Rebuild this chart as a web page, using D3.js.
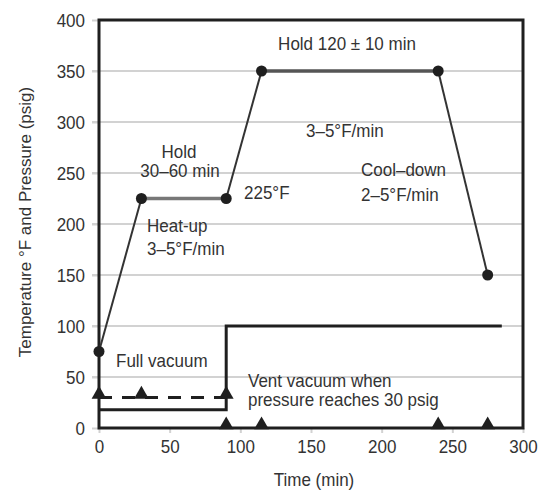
<!DOCTYPE html>
<html>
<head>
<meta charset="utf-8">
<script src="https://cdn.jsdelivr.net/npm/d3@7"></script>
<style>
  html, body { margin: 0; padding: 0; background: #fff; }
  svg { display: block; }
  text { font-family: "Liberation Sans", Arial, Helvetica, sans-serif; fill: #333; }
</style>
</head>
<body>
<svg id="chart" width="539" height="490"></svg>
<script>
// Cure cycle: temperature profile and autoclave pressure vs. time
const timeTicks = [0, 50, 100, 150, 200, 250, 300];
const valueTicks = [0, 50, 100, 150, 200, 250, 300, 350, 400];

// Temperature profile (°F)
const profileTime = [0, 30, 90, 115, 240, 275];
const profileTemp = [75, 225, 225, 350, 350, 150];

// Pressure (psig): vacuum bag then autoclave pressure
const pressureTime = [0, 90, 90, 285];
const pressureValue = [18, 18, 100, 100];

// Vent-vacuum line
const ventTime = [0, 30, 90];
const ventValue = [30, 30, 30];

// Event markers along the time axis
const eventTime = [90, 115, 240, 275];

const svg = d3.select("#chart");
const x = d3.scaleLinear().domain([0, 300]).range([99, 523]);
const y = d3.scaleLinear().domain([0, 400]).range([428, 20]);
const SY = 1.1;

// Gridlines (with short outer ticks)
svg.append("g").selectAll("line")
  .data(valueTicks.filter(v => v > 0 && v < 400))
  .join("line")
  .attr("x1", 92).attr("x2", x(300))
  .attr("y1", d => y(d)).attr("y2", d => y(d))
  .attr("stroke", "#d2d2d2").attr("stroke-width", 2);

// Axes via d3.axis, restyled
const yAxis = svg.append("g").attr("transform", `translate(${x(0)},0)`)
  .call(d3.axisLeft(y).tickValues(valueTicks).tickSize(7).tickPadding(7).tickFormat(d3.format("d")));
const xAxis = svg.append("g").attr("transform", `translate(0,${y(0)})`)
  .call(d3.axisBottom(x).tickValues(timeTicks).tickSize(5).tickPadding(12).tickFormat(d3.format("d")));
[yAxis, xAxis].forEach(g => {
  g.select(".domain").remove();
  g.selectAll(".tick line").attr("stroke", "#d2d2d2").attr("stroke-width", 2);
  g.selectAll(".tick text").attr("font-size", null).attr("fill", "#333")
    .style("font-size", "17px");
});
yAxis.selectAll(".tick text").each(function () {
  d3.select(this).attr("transform", `scale(1,${SY})`).attr("y", 0).attr("dy", "0.36em");
});
xAxis.selectAll(".tick text").attr("dy", "0.71em").each(function () {
  d3.select(this).attr("transform", `scale(1,${SY})`).attr("y", 12 / SY);
});

// Frame
svg.append("rect")
  .attr("x", x(0)).attr("y", y(400))
  .attr("width", x(300) - x(0)).attr("height", y(0) - y(400))
  .attr("fill", "none").attr("stroke", "#1f1f1f").attr("stroke-width", 3);

// Pressure line
const pressurePts = pressureTime.map((t, i) => [x(t), y(pressureValue[i])]);
svg.append("path")
  .attr("d", d3.line()(pressurePts))
  .attr("fill", "none").attr("stroke", "#1f1f1f").attr("stroke-width", 3);

// Vent vacuum dashed line
const ventPts = ventTime.map((t, i) => [x(t), y(ventValue[i])]);
svg.append("path")
  .attr("d", d3.line()(ventPts))
  .attr("fill", "none").attr("stroke", "#1f1f1f").attr("stroke-width", 3)
  .attr("stroke-dasharray", "13,10");

// Temperature profile segments (hold segments drawn heavier)
const profile = profileTime.map((t, i) => ({ t, v: profileTemp[i] }));
const segs = d3.pairs(profile);
svg.append("g").selectAll("line").data(segs).join("line")
  .attr("x1", d => x(d[0].t)).attr("y1", d => y(d[0].v))
  .attr("x2", d => x(d[1].t)).attr("y2", d => y(d[1].v))
  .attr("stroke", d => d[0].v === d[1].v ? (d[0].v > 300 ? "#555" : "#777") : "#333")
  .attr("stroke-width", d => d[0].v === d[1].v ? 3.5 : 2);

svg.append("g").selectAll("circle").data(profile).join("circle")
  .attr("cx", d => x(d.t)).attr("cy", d => y(d.v)).attr("r", 5.5)
  .attr("fill", "#1f1f1f");

// Triangle markers
const tri = d3.symbol().type(d3.symbolTriangle).size(95);
svg.append("g").selectAll("path").data(ventTime.map((t, i) => [t, ventValue[i]])).join("path")
  .attr("d", tri)
  .attr("transform", d => `translate(${x(d[0])},${y(d[1]) - 3})`)
  .attr("fill", "#1f1f1f");
svg.append("g").selectAll("path").data(eventTime).join("path")
  .attr("d", tri)
  .attr("transform", d => `translate(${x(d)},${y(0) - 3})`)
  .attr("fill", "#1f1f1f");

// Annotations
function label(px, py, str, anchor) {
  svg.append("text")
    .attr("transform", `translate(${px},${py}) scale(1,${SY})`)
    .attr("text-anchor", anchor || "start")
    .style("font-size", "17px")
    .text(str);
}
label(347, 50, "Hold 120 ± 10 min", "middle");
label(179, 158, "Hold", "middle");
label(180, 177, "30–60 min", "middle");
label(244, 199, "225°F");
label(306, 137, "3–5°F/min");
label(361, 176, "Cool–down");
label(361, 201, "2–5°F/min");
label(147, 232, "Heat-up");
label(147, 255, "3–5°F/min");
label(116, 367, "Full vacuum");
label(248, 387, "Vent vacuum when");
label(248, 406, "pressure reaches 30 psig");

// Axis titles
label(314, 486, "Time (min)", "middle");
svg.append("text")
  .attr("transform", `translate(31,222) rotate(-90)`)
  .attr("text-anchor", "middle")
  .style("font-size", "17px")
  .text("Temperature °F and Pressure (psig)");
</script>
</body>
</html>
